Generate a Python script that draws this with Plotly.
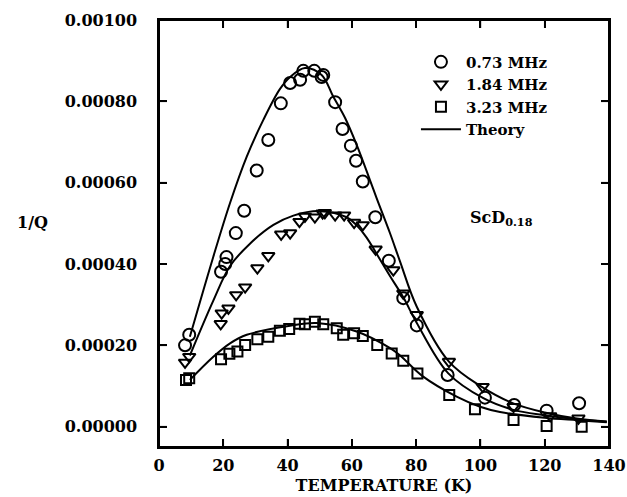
import plotly.graph_objects as go

# ---- data ----
t_073 = [8.1, 9.4, 19.3, 20.6, 21.0, 23.9, 26.5, 30.4, 34.0, 37.9, 40.8, 43.9, 44.9, 48.3,
         50.6, 51.1, 54.8, 57.1, 59.7, 61.3, 63.4, 67.3, 71.5, 76.0, 80.2, 89.8, 101.4,
         110.5, 120.6, 130.7]
q_073 = [0.000200, 0.000226, 0.000381, 0.000400, 0.000417, 0.000476, 0.000531, 0.000630,
         0.000705, 0.000795, 0.000845, 0.000853, 0.000875, 0.000875, 0.000860, 0.000865,
         0.000798, 0.000732, 0.000691, 0.000654, 0.000603, 0.000515, 0.000408, 0.000316,
         0.000249, 0.000127, 0.0000714, 0.0000534, 0.0000394, 0.0000575]

t_184 = [8.1, 9.4, 19.2, 19.5, 21.6, 24.0, 26.8, 30.6, 34.0, 38.0, 40.8, 43.7, 45.4, 48.5,
         50.9, 51.6, 54.8, 57.6, 60.7, 63.4, 67.4, 72.9, 76.0, 80.2, 90.2, 100.7, 110.3,
         121.7, 130.5]
q_184 = [0.000158, 0.000172, 0.000253, 0.000279, 0.000291, 0.000324, 0.000343, 0.000390,
         0.000420, 0.000473, 0.000476, 0.000504, 0.000517, 0.000515, 0.000525, 0.000526,
         0.000520, 0.000520, 0.000502, 0.000496, 0.000436, 0.000385, 0.000328, 0.000275,
         0.000160, 0.0000984, 0.0000492, 0.0000263, 0.0000207]

t_323 = [8.4, 9.4, 19.3, 21.9, 24.4, 26.8, 30.6, 34.0, 37.6, 40.5, 43.7, 45.4, 48.5, 51.1,
         55.3, 57.3, 60.7, 63.4, 67.9, 72.4, 76.0, 80.4, 90.3, 98.3, 110.3, 120.6, 131.5]
q_323 = [0.000115, 0.000119, 0.000166, 0.000179, 0.000185, 0.000201, 0.000215, 0.000221,
         0.000236, 0.000240, 0.000253, 0.000252, 0.000258, 0.000252, 0.000242, 0.000226,
         0.000230, 0.000223, 0.000201, 0.000180, 0.000162, 0.000131, 0.0000780, 0.0000428,
         0.0000165, 0.0000017, 0.0]

th_t_073 = [9.6, 16.9, 22.1, 27.3, 32.5, 37.6, 40.8, 45.4, 50.6, 54.2, 57.9, 61.5, 65.6,
            67.7, 71.9, 75.0, 80.2, 90.2, 100.3, 110.0, 120.0, 130.0, 139.3]
th_q_073 = [0.000221, 0.000418, 0.000550, 0.000664, 0.000755, 0.000830, 0.000860, 0.000882,
            0.000865, 0.000812, 0.000759, 0.000693, 0.000607, 0.000562, 0.000475, 0.000406,
            0.000295, 0.000160, 0.0000984, 0.0000580, 0.0000350, 0.0000200, 0.0000130]

th_t_184 = [9.6, 16.9, 22.1, 28.3, 35.6, 41.8, 50.1, 58.4, 61.5, 64.6, 67.7, 71.9, 76.0,
            80.2, 90.0, 100.9, 110.0, 120.0, 130.0, 139.3]
th_q_184 = [0.000175, 0.000310, 0.000395, 0.000450, 0.000496, 0.000519, 0.000530, 0.000515,
            0.000495, 0.000465, 0.000425, 0.000370, 0.000318, 0.000255, 0.000131, 0.0000700,
            0.0000420, 0.0000280, 0.0000180, 0.0000120]

th_t_323 = [9.6, 16.9, 22.1, 27.3, 40.8, 49.0, 61.5, 71.9, 75.0, 82.2, 92.6, 99.9, 106.1,
            120.0, 130.0, 139.3]
th_q_323 = [0.000115, 0.000172, 0.000205, 0.000226, 0.000248, 0.000255, 0.000234, 0.000193,
            0.000175, 0.000123, 0.0000738, 0.0000490, 0.0000360, 0.0000220, 0.0000160,
            0.0000110]

x_ticks = [0, 20, 40, 60, 80, 100, 120, 140]
y_ticks = [0.0, 0.0002, 0.0004, 0.0006, 0.0008, 0.0010]

FONT = "DejaVu Serif"
fnt = dict(family=FONT, size=16, color="black", weight="bold")
legfnt = dict(family=FONT, size=15, color="black", weight="bold")

fig = go.Figure()
mk_line = dict(color="black", width=2)

fig.add_trace(go.Scatter(x=t_073, y=q_073, mode="markers", name="0.73 MHz",
                         marker=dict(symbol="circle-open", size=12, line=mk_line, color="black")))
fig.add_trace(go.Scatter(x=t_184, y=q_184, mode="markers", name="1.84 MHz",
                         marker=dict(symbol="triangle-down-open", size=11, line=mk_line, color="black")))
fig.add_trace(go.Scatter(x=t_323, y=q_323, mode="markers", name="3.23 MHz",
                         marker=dict(symbol="square-open", size=10, line=mk_line, color="black")))
for tt, qq, show in [(th_t_073, th_q_073, True), (th_t_184, th_q_184, False), (th_t_323, th_q_323, False)]:
    fig.add_trace(go.Scatter(x=tt, y=qq, mode="lines", name="Theory", showlegend=show,
                             line=dict(color="black", width=2, shape="spline", smoothing=1.0)))

axis_common = dict(showline=True, linecolor="black", linewidth=2, mirror="ticks",
                   ticks="inside", ticklen=8, tickwidth=1.5, tickcolor="black",
                   showgrid=False, zeroline=False, tickfont=fnt, automargin=False)

fig.update_xaxes(range=[0, 140], tickvals=x_ticks, ticktext=[str(v) for v in x_ticks],
                 ticklabelstandoff=3,
                 title=dict(text="TEMPERATURE (K)", font=fnt, standoff=6), **axis_common)
fig.update_yaxes(range=[-0.00005, 0.001], tickvals=y_ticks,
                 ticktext=["%.5f\u00a0\u00a0\u00a0" % v for v in y_ticks], **axis_common)

# frame and tick marks drawn as shapes (so they are always visible)
fig.add_shape(type="rect", xref="paper", yref="paper", x0=0, x1=1, y0=0, y1=1,
              line=dict(color="black", width=2), layer="above")
for v in x_ticks[1:-1]:
    for anchor, d in [(0, 8), (1, -8)]:
        fig.add_shape(type="line", xref="x", yref="paper", ysizemode="pixel", yanchor=anchor,
                      x0=v, x1=v, y0=0, y1=d, line=dict(color="black", width=1.5), layer="above")
for v in y_ticks[:-1]:
    for anchor, d in [(0, 8), (1, -8)]:
        fig.add_shape(type="line", xref="paper", yref="y", xsizemode="pixel", xanchor=anchor,
                      x0=0, x1=d, y0=v, y1=v, line=dict(color="black", width=1.5), layer="above")

fig.add_annotation(text="1/Q", xref="paper", yref="paper", x=-0.282, y=0.525,
                   xanchor="center", yanchor="middle", showarrow=False, font=fnt)
fig.add_annotation(text="ScD<sub>0.18</sub>", xref="paper", yref="paper", x=0.686, y=0.535,
                   xanchor="left", yanchor="middle", showarrow=False, font=fnt)

fig.update_layout(
    width=627, height=497,
    margin=dict(l=159, r=18, t=20, b=50),
    paper_bgcolor="white", plot_bgcolor="white",
    font=fnt,
    legend=dict(x=0.571, y=0.94, xanchor="left", yanchor="top", bgcolor="rgba(0,0,0,0)",
                font=legfnt, itemwidth=40, tracegroupgap=0),
)

fig.write_html("out.html", config={"displayModeBar": False},
               post_script="document.body.style.margin='0px';")
